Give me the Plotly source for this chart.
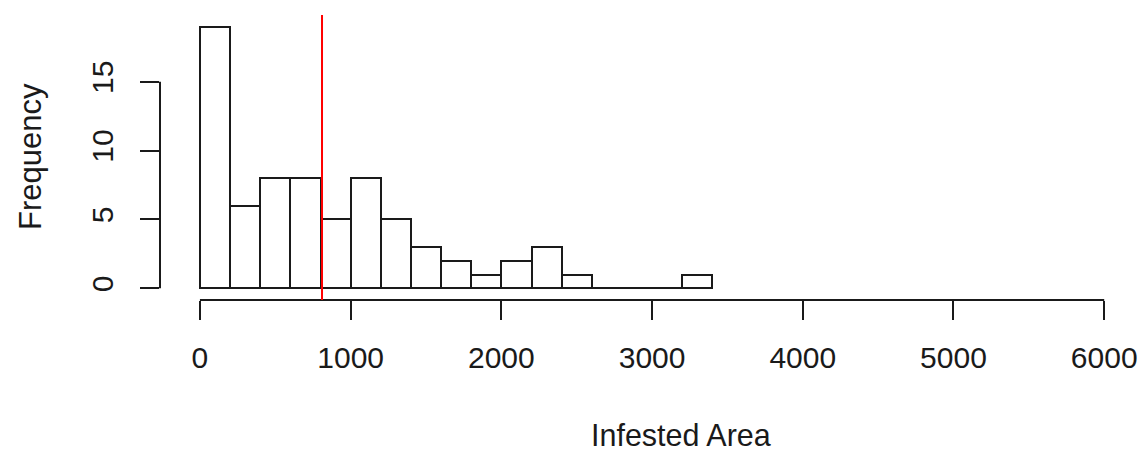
import plotly.graph_objects as go

# histogram bins (width 200) and their counts
bin_left = [0, 200, 400, 600, 800, 1000, 1200, 1400, 1600, 1800, 2000, 2200, 2400, 2600, 2800, 3000, 3200]
counts = [19, 6, 8, 8, 5, 8, 5, 3, 2, 1, 2, 3, 1, 0, 0, 0, 1]
bin_width = 200
mean_area = 810

x_ticks = [0, 1000, 2000, 3000, 4000, 5000, 6000]
y_ticks = [0, 5, 10, 15]

FONT = "Liberation Sans, Arimo, Arial, sans-serif"
INK = "#1a1a1a"

# page body has an 8px margin, so the figure is drawn 8px smaller than the window
W, H = 1139, 443
PL, PT, PB = 152, 7, 151
plot_w = W - PL
plot_h = H - PT - PB

centers = [b + bin_width / 2 for b in bin_left]

fig = go.Figure()
fig.add_trace(
    go.Bar(
        x=centers, y=counts, width=bin_width,
        marker=dict(color="white", line=dict(color=INK, width=2)),
        hoverinfo="x+y", showlegend=False,
    )
)

# R style detached axis lines (only from first to last tick)
fig.add_shape(type="line", xref="x", yref="paper", x0=x_ticks[0], x1=x_ticks[-1], y0=0, y1=0,
              line=dict(color=INK, width=2))
fig.add_shape(type="line", xref="paper", yref="y", x0=0, x1=0, y0=y_ticks[0], y1=y_ticks[-1],
              line=dict(color=INK, width=2))

# mean line
fig.add_shape(type="line", xref="x", yref="paper", x0=mean_area, x1=mean_area, y0=0, y1=1,
              line=dict(color="#ff0000", width=2))

fig.add_annotation(text="Infested Area", xref="paper", yref="paper", x=(681 - 160) / plot_w, y=-(435 - 300) / plot_h,
                   showarrow=False, font=dict(size=30.5, color=INK, family=FONT), xanchor="center", yanchor="middle")
fig.add_annotation(text="Frequency", xref="paper", yref="paper", x=-(160 - 30) / plot_w, y=(300 - 157) / plot_h,
                   showarrow=False, textangle=-90, font=dict(size=31, color=INK, family=FONT),
                   xanchor="center", yanchor="middle")

fig.update_layout(
    width=W, height=H,
    margin=dict(l=PL, r=0, t=PT, b=PB),
    plot_bgcolor="white", paper_bgcolor="white",
    bargap=0,
    font=dict(family=FONT, size=30, color=INK),
)
fig.update_xaxes(
    range=[-265, 6284], tickvals=x_ticks, ticktext=[str(v) for v in x_ticks],
    ticks="outside", ticklen=19, tickwidth=2, tickcolor=INK, ticklabelstandoff=12,
    showgrid=False, zeroline=False, showline=False,
    tickfont=dict(size=30, color=INK, family=FONT),
)
fig.update_yaxes(
    range=[-0.85, 19.85], tickvals=y_ticks, ticktext=[str(v) for v in y_ticks],
    ticks="outside", ticklen=19, tickwidth=2, tickcolor=INK, tickangle=-90, ticklabelstandoff=15,
    showgrid=False, zeroline=False, showline=False,
    tickfont=dict(size=30, color=INK, family=FONT),
)

fig.write_html("out.html")
